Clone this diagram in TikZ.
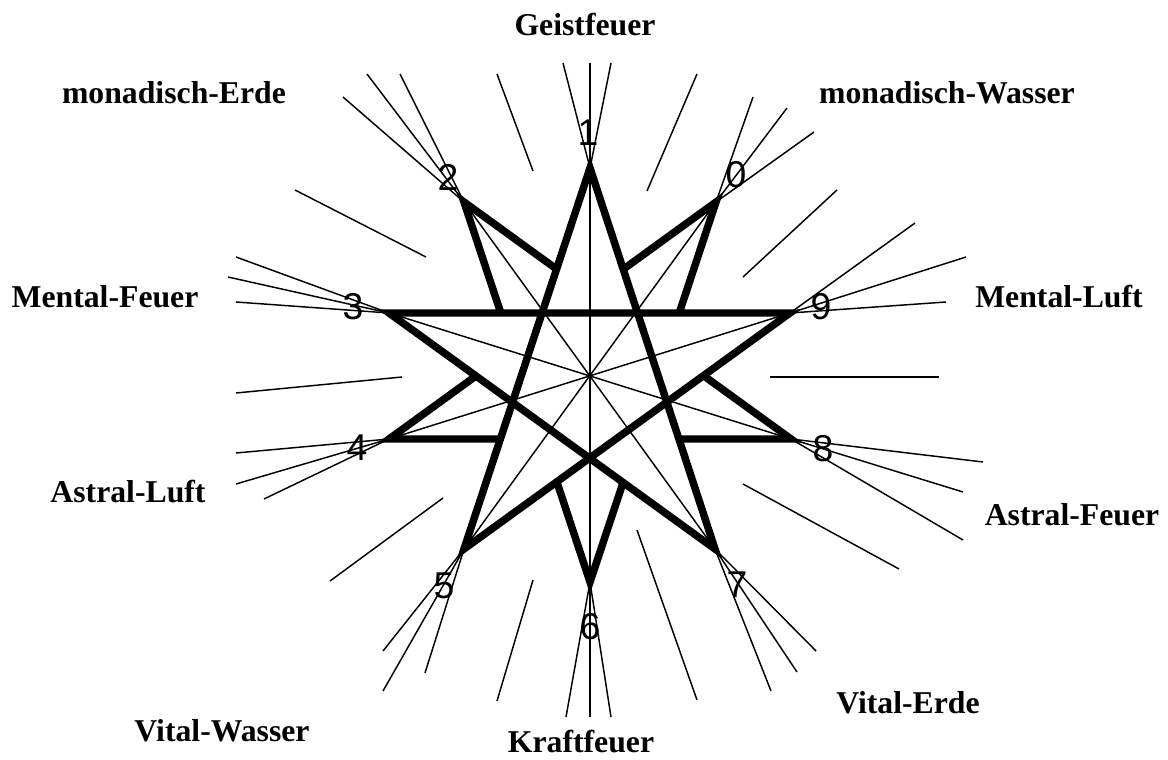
\documentclass[tikz,border=0pt]{standalone}
\usepackage{fontspec}
\setmainfont{Liberation Serif}
\newfontfamily\digitfont{Liberation Sans}
\usepackage{tikz}
\usetikzlibrary{calc}
\definecolor{starink}{HTML}{000000}

\begin{document}
\begin{tikzpicture}[x=0.75pt,y=-0.75pt,
  heavy/.style={starink,line width=5.6pt,line join=miter},
  fine/.style={starink,line width=1.1pt},
  elname/.style={font=\bfseries\fontsize{23.8}{28}\selectfont,text=starink,anchor=base,inner sep=0pt},
  num/.style={font=\digitfont\fontsize{28}{31}\selectfont,text=starink,inner sep=0pt}]
\useasboundingbox (0,0) rectangle (1168,760);
% points of the star
\coordinate (p1) at (590,168);
\coordinate (p0) at (716,202);
\coordinate (p9) at (790,313);
\coordinate (p8) at (791,439);
\coordinate (p7) at (715,549);
\coordinate (p6) at (590,582);
\coordinate (p5) at (464,549);
\coordinate (p4) at (389,439);
\coordinate (p3) at (389,313);
\coordinate (p2) at (464,202);
\coordinate (axtop) at (590,63);
\coordinate (axbot) at (590,717);
% thin diameters
\draw[fine] (axtop) -- (axbot);
\draw[fine] (p2) -- (p7);
\draw[fine] (p0) -- (p5);
\draw[fine] (p3) -- (p8);
\draw[fine] (p9) -- (p4);
% heavy star
\draw[heavy] (p1) -- (p5) -- (p9) -- (p3) -- (p7) -- cycle;
\draw[heavy] (intersection of p2--p8 and p1--p5) -- (p2) -- (intersection of p2--p6 and p3--p9);
\draw[heavy] (intersection of p0--p4 and p1--p7) -- (p0) -- (intersection of p0--p6 and p3--p9);
\draw[heavy] (intersection of p4--p0 and p3--p7) -- (p4) -- (intersection of p4--p8 and p1--p5);
\draw[heavy] (intersection of p8--p2 and p9--p5) -- (p8) -- (intersection of p8--p4 and p1--p7);
\draw[heavy] (intersection of p6--p2 and p5--p9) -- (p6) -- (intersection of p6--p0 and p3--p7);
% rays from the points
\draw[fine] (p2) -- (343,97);  \draw[fine] (p2) -- (367,74);  \draw[fine] (p2) -- (400,74);
\draw[fine] (p1) -- (563,63);  \draw[fine] (p1) -- (611,63);
\draw[fine] (p0) -- (753,97);  \draw[fine] (p0) -- (787,108); \draw[fine] (p0) -- (814,132);
\draw[fine] (p9) -- (915,223); \draw[fine] (p9) -- (966,257); \draw[fine] (p9) -- (946,302);
\draw[fine] (p8) -- (983,462); \draw[fine] (p8) -- (963,492); \draw[fine] (p8) -- (963,540);
\draw[fine] (p7) -- (816,651); \draw[fine] (p7) -- (797,672); \draw[fine] (p7) -- (771,691);
\draw[fine] (p6) -- (566,717); \draw[fine] (p6) -- (611,717);
\draw[fine] (p5) -- (383,651); \draw[fine] (p5) -- (383,691); \draw[fine] (p5) -- (425,673);
\draw[fine] (p4) -- (236,453); \draw[fine] (p4) -- (236,484); \draw[fine] (p4) -- (264,499);
\draw[fine] (p3) -- (236,257); \draw[fine] (p3) -- (228,277); \draw[fine] (p3) -- (236,302);
% loose strokes between the points
\draw[fine] (497,74) -- (533,171);
\draw[fine] (697,74) -- (647,191);
\draw[fine] (837,190) -- (743,277);
\draw[fine] (770,377) -- (939,377);
\draw[fine] (743,484) -- (899,569);
\draw[fine] (637,530) -- (697,700);
\draw[fine] (533,580) -- (497,701);
\draw[fine] (443,498) -- (330,581);
\draw[fine] (236,393) -- (402,377);
\draw[fine] (295,190) -- (426,257);
% numbers
\node[num] (n1) at (588,133) {1};
\node[num] (n0) at (736,175) {0};
\node[num] (n9) at (821,307) {9};
\node[num] (n8) at (823,449) {8};
\node[num] (n7) at (737,585) {7};
\node[num] (n6) at (590,627) {6};
\node[num] (n5) at (444,586) {5};
\node[num] (n4) at (357,448) {4};
\node[num] (n3) at (353,307) {3};
\node[num] (n2) at (448,177) {2};
% element names
\node[elname] (geist) at (585,36) {Geistfeuer};
\node[elname] (monerde) at (174,103) {monadisch-Erde};
\node[elname] (monwasser) at (947,103) {monadisch-Wasser};
\node[elname] (menfeuer) at (105,307) {Mental-Feuer};
\node[elname] (menluft) at (1059,307) {Mental-Luft};
\node[elname] (astluft) at (128,502) {Astral-Luft};
\node[elname] (astfeuer) at (1072,525) {Astral-Feuer};
\node[elname] (vitwasser) at (222,741) {Vital-Wasser};
\node[elname] (kraft) at (581,752) {Kraftfeuer};
\node[elname] (viterde) at (908,713) {Vital-Erde};
\end{tikzpicture}
\end{document}
